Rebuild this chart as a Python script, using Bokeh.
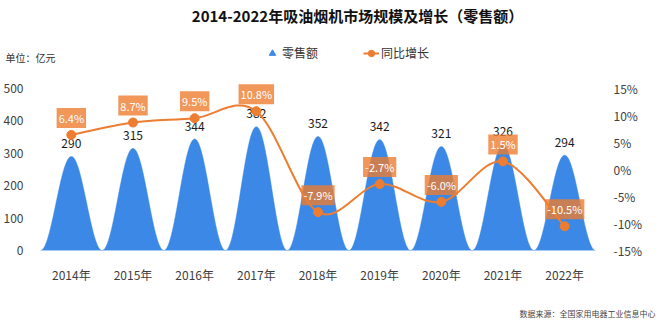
import numpy as np
from bokeh.plotting import figure
from bokeh.layouts import column
from bokeh.models import (Range1d, LinearAxis, FixedTicker, Label, Legend,
                          LegendItem)
from bokeh.core.properties import value
from bokeh.embed import file_html
from bokeh.resources import INLINE

# ---------------- data ----------------
years = ["2014年", "2015年", "2016年", "2017年", "2018年",
         "2019年", "2020年", "2021年", "2022年"]
sales = [290, 315, 344, 382, 352, 342, 321, 326, 294]          # 亿元
growth = [6.4, 8.7, 9.5, 10.8, -7.9, -2.7, -6.0, 1.5, -10.5]    # %
sales_ticks = [0, 100, 200, 300, 400, 500]
growth_ticks = [-15, -10, -5, 0, 5, 10, 15]
title_text = "2014-2022年吸油烟机市场规模及增长（零售额）"
unit_text = "单位：亿元"
source_text = "数据来源：全国家用电器工业信息中心"
legend_labels = ["零售额", "同比增长"]

FONT = "Noto Sans CJK SC"
BLUE = "#3b88e6"
ORANGE = "#ed7d31"
W = 660

# layout bands (canvas px)
TOP_H = 68          # header figure: 0..68
MAIN_H = 222        # main figure: 68..290
BOT_H = 323 - TOP_H - MAIN_H
FL, FR = 38, 595                 # frame left/right
F_TOP_CANVAS = 78                # frame top (a bit above the 500 tick)
TICK_TOP, TICK_BOT = 88, 250     # canvas y of 500 / 0


def blank(h):
    f = figure(width=W, height=h, output_backend="svg", toolbar_location=None,
               x_range=Range1d(0, W), y_range=Range1d(h, 0),
               x_axis_location=None, y_axis_location=None,
               min_border=0, outline_line_color=None, frame_align=False)
    f.xgrid.visible = False
    f.ygrid.visible = False
    return f


# ---------------- header ----------------
top = blank(TOP_H)
top.add_layout(Label(x=357, y=15, text=title_text, text_align="center",
                     text_baseline="middle", text_font=FONT,
                     text_font_size="15px", text_font_style="bold",
                     text_color="#111111"))
top.add_layout(Label(x=5, y=57, text=unit_text, text_align="left",
                     text_baseline="middle", text_font=FONT,
                     text_font_size="10px", text_color="#333333"))
# legend proxies (NaN data: nothing drawn in the plot area)
d_tri = top.scatter(x=[np.nan], y=[np.nan], marker="triangle", size=10,
                    fill_color=BLUE, line_color=BLUE)
d_line = top.line(x=[np.nan], y=[np.nan], line_color=ORANGE, line_width=2)
d_dot = top.scatter(x=[np.nan], y=[np.nan], marker="circle", size=7,
                    fill_color=ORANGE, line_color=ORANGE)
legend = Legend(items=[LegendItem(label=legend_labels[0], renderers=[d_tri]),
                       LegendItem(label=legend_labels[1], renderers=[d_line, d_dot])],
                orientation="horizontal", location=(264, TOP_H - 61),
                glyph_width=16, glyph_height=16, label_standoff=2, spacing=45,
                padding=0, margin=0, border_line_alpha=0,
                background_fill_alpha=0,
                label_text_font=FONT, label_text_font_size="12px",
                label_text_color="#333333", label_height=16)
top.add_layout(legend, "center")

# ---------------- main chart ----------------
px_per_unit = (TICK_BOT - TICK_TOP) / 500.0
y_top = (TICK_BOT - F_TOP_CANVAS) / px_per_unit
pct_top = -15 + 30 * (TICK_BOT - F_TOP_CANVAS) / (TICK_BOT - TICK_TOP)

p = figure(width=W, height=MAIN_H, output_backend="svg", toolbar_location=None,
           x_range=Range1d(0, len(years)), y_range=Range1d(0, y_top),
           min_border_left=FL, min_border_right=W - FR,
           min_border_top=F_TOP_CANVAS - TOP_H,
           min_border_bottom=TOP_H + MAIN_H - TICK_BOT,
           outline_line_color=None, frame_align=False)
p.extra_y_ranges = {"pct": Range1d(-15, pct_top)}
p.xgrid.visible = False
p.ygrid.visible = False

centers = [i + 0.5 for i in range(len(years))]

p.xaxis.ticker = FixedTicker(ticks=centers)
p.xaxis.major_label_overrides = {c: y for c, y in zip(centers, years)}
p.yaxis.ticker = FixedTicker(ticks=sales_ticks)
for ax in (p.xaxis[0], p.yaxis[0]):
    ax.axis_line_color = None
    ax.major_tick_line_color = None
    ax.minor_tick_line_color = None
    ax.major_label_text_font = FONT
    ax.major_label_text_font_size = "12px"
    ax.major_label_text_color = "#404040"
p.xaxis.major_label_standoff = 9
p.yaxis.major_label_standoff = 11

ra = LinearAxis(y_range_name="pct", ticker=FixedTicker(ticks=growth_ticks))
ra.major_label_overrides = {t: f"{t}%" for t in growth_ticks}
ra.axis_line_color = None
ra.major_tick_line_color = None
ra.minor_tick_line_color = None
ra.major_label_text_font = FONT
ra.major_label_text_font_size = "12px"
ra.major_label_text_color = "#404040"
ra.major_label_standoff = 12
p.add_layout(ra, "right")

# bell-shaped bars
t = np.linspace(-0.5, 0.5, 81)
shape = np.cos(np.pi * t) ** 2
xs = [list(c + t) for c in centers]
ys = [list(v * shape) for v in sales]
p.patches(xs=xs, ys=ys, fill_color=BLUE, line_color=BLUE, line_width=0.5)

p.text(x=centers, y=sales, text=[str(v) for v in sales], y_offset=-13,
       text_align="center", text_baseline="middle",
       text_font=value(FONT), text_font_size="12px", text_color="#1a1a1a")

# smoothed growth line (Catmull-Rom beziers through the data points)
P = list(zip(centers, growth))
n = len(P)
bx0, by0, bx1, by1, cx0, cy0, cx1, cy1 = ([] for _ in range(8))
for i in range(n - 1):
    pm = P[i - 1] if i > 0 else P[i]
    p0 = P[i]
    p1 = P[i + 1]
    p2 = P[i + 2] if i + 2 < n else P[i + 1]
    bx0.append(p0[0]); by0.append(p0[1])
    bx1.append(p1[0]); by1.append(p1[1])
    cx0.append(p0[0] + (p1[0] - pm[0]) / 6); cy0.append(p0[1] + (p1[1] - pm[1]) / 6)
    cx1.append(p1[0] - (p2[0] - p0[0]) / 6); cy1.append(p1[1] - (p2[1] - p0[1]) / 6)
p.bezier(x0=bx0, y0=by0, x1=bx1, y1=by1, cx0=cx0, cy0=cy0, cx1=cx1, cy1=cy1,
         line_color=ORANGE, line_width=2, y_range_name="pct")
p.scatter(x=centers, y=growth, size=9, marker="circle", fill_color=ORANGE,
          line_color=ORANGE, y_range_name="pct")

p.text(x=centers, y=growth, text=[f"{g:.1f}%" for g in growth], y_offset=-17,
       y_range_name="pct", text_align="center", text_baseline="middle",
       text_font=value(FONT), text_font_size="11px", text_color="white",
       background_fill_color=ORANGE, background_fill_alpha=0.8, padding=2)

# ---------------- footer ----------------
bot = blank(BOT_H)
bot.add_layout(Label(x=655, y=313 - TOP_H - MAIN_H, text=source_text,
                     text_align="right", text_baseline="middle",
                     text_font=FONT, text_font_size="8px",
                     text_color="#444444"))

layout = column(top, p, bot, spacing=0)
open("out.html", "w").write(file_html(layout, INLINE))
